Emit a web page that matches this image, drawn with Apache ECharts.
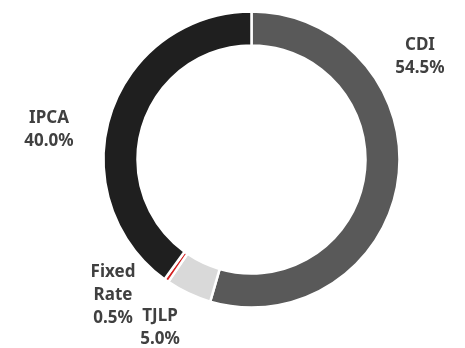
<!DOCTYPE html>
<html>
<head>
<meta charset="utf-8">
<script src="https://cdn.jsdelivr.net/npm/echarts@6/dist/echarts.min.js"></script>
<style>
  html, body { margin: 0; padding: 0; background: #ffffff; }
  #chart { width: 465px; height: 348px; }
</style>
</head>
<body>
<div id="chart"></div>
<script>
// Debt breakdown by index
const categories = ['CDI', 'TJLP', 'Fixed\nRate', 'IPCA'];
const shares = [54.5, 5.0, 0.5, 40.0];
const colors = ['#595959', '#d9d9d9', '#d42020', '#1f1f1f'];

// label anchors (centre of each text block)
const labelAnchors = [
  { x: 420, y: 57 },
  { x: 160, y: 328 },
  { x: 113, y: 295 },
  { x: 49, y: 130 }
];

const chart = echarts.init(document.getElementById('chart'), null, { renderer: 'canvas' });

chart.setOption({
  animation: false,
  series: [{
    type: 'pie',
    center: [251.5, 159.5],
    radius: [114, 148],
    startAngle: 90,
    clockwise: true,
    avoidLabelOverlap: false,
    itemStyle: { borderColor: '#ffffff', borderWidth: 2.5 },
    label: {
      show: true,
      position: 'outside',
      formatter: p => p.name + '\n' + p.value.toFixed(1) + '%',
      fontFamily: 'Noto Sans',
      fontWeight: 'bold',
      fontSize: 17,
      lineHeight: 23,
      color: '#404040',
      align: 'center'
    },
    labelLine: { show: false },
    labelLayout: p => ({
      x: labelAnchors[p.dataIndex].x,
      y: labelAnchors[p.dataIndex].y,
      align: 'center',
      verticalAlign: 'middle'
    }),
    data: categories.map((c, i) => ({
      name: c,
      value: shares[i],
      itemStyle: { color: colors[i] }
    }))
  }]
});
</script>
</body>
</html>
